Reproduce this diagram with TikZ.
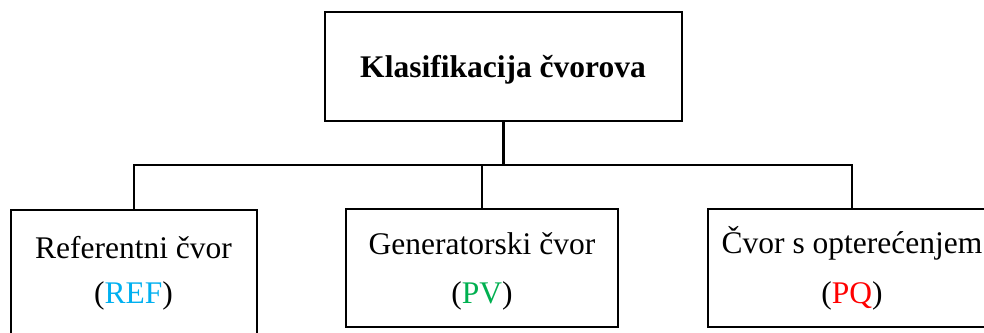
\documentclass[tikz,border=0pt]{standalone}
\usepackage{fontspec}
\setmainfont{Liberation Serif}
\definecolor{refblue}{HTML}{00B0F0}
\definecolor{pvgreen}{HTML}{00B050}
\definecolor{pqred}{HTML}{FF0000}
\begin{document}
\begin{tikzpicture}[x=1pt,y=-1pt,
  boxstyle/.style={draw=black, line width=2.2pt, fill=white, inner sep=0pt},
  txt/.style={anchor=base, inner sep=0pt, font=\fontsize{31.5}{38}\selectfont},
  conn/.style={draw=black, line width=2.2pt}]
\useasboundingbox (0,0) rectangle (984,332);
\clip (0,0) rectangle (984,332);
% boxes
\node[boxstyle, minimum width=357pt, minimum height=109pt] (top) at (503.5,66.5) {};
\node[boxstyle, minimum width=246pt, minimum height=140pt] (ref) at (134,280) {};
\node[boxstyle, minimum width=272pt, minimum height=118pt] (gen) at (482,268) {};
\node[boxstyle, minimum width=288pt, minimum height=118pt] (pq) at (852,268) {};
% texts
\node[txt, font=\fontsize{31.5}{38}\selectfont\bfseries] (ttop) at (503,77) {Klasifikacija čvorova};
\node[txt] (tref1) at (133.5,258) {Referentni čvor};
\node[txt] (tref2) at (133.5,303) {(\textcolor{refblue}{REF})};
\node[txt] (tgen1) at (482,254) {Generatorski čvor};
\node[txt] (tgen2) at (482,303) {(\textcolor{pvgreen}{PV})};
\node[txt] (tpq1) at (852,253) {Čvor s opterećenjem};
\node[txt] (tpq2) at (852,303) {(\textcolor{pqred}{PQ})};
% connectors
\coordinate (bus) at (0,165);
\draw[conn] (top.south) -- (top.south |- bus);
\draw[conn, line cap=rect] (ref.north) -- (ref.north |- bus) -- (pq.north |- bus) -- (pq.north);
\draw[conn] (gen.north) -- (gen.north |- bus);
\end{tikzpicture}
\end{document}
